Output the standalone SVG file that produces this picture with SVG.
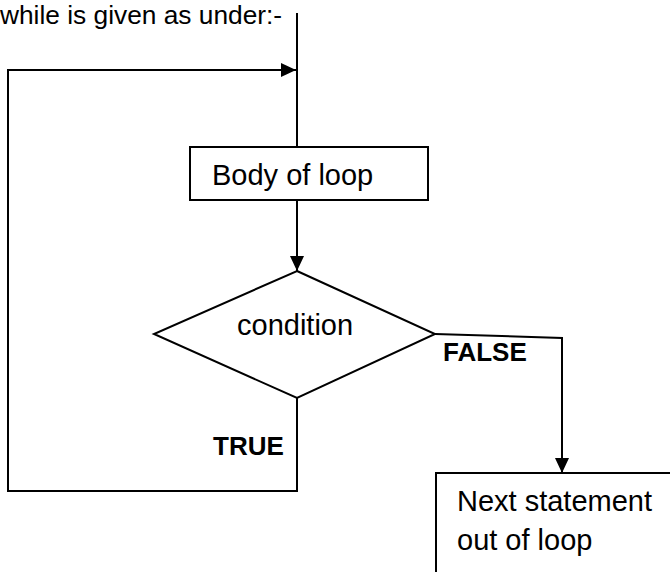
<svg xmlns="http://www.w3.org/2000/svg" width="670" height="572" viewBox="0 0 670 572">
<style>
.ln{fill:none;stroke:#000;stroke-width:2}
.sh{fill:#fff;stroke:#000;stroke-width:2}
.t{font-family:"Liberation Sans",Arial,sans-serif;fill:#000}
.n{font-size:29px}
.b{font-size:26px;font-weight:bold}
</style>
<defs>
<marker id="ah" markerWidth="15" markerHeight="14" refX="15" refY="7" orient="auto" markerUnits="userSpaceOnUse">
<path d="M0,0 L15,7 L0,14 Z" fill="#000"/>
</marker>
</defs>
<rect width="670" height="572" fill="#fff"/>
<text class="t" x="0" y="24" font-size="26.3">while is given as under:-</text>
<g id="connectors">
<path class="ln" d="M297,13 V147"/>
<path class="ln" d="M297,398 V491 H8 V70 H296" marker-end="url(#ah)"/>
<path class="ln" d="M297,200 V271" marker-end="url(#ah)"/>
<path class="ln" d="M435,334 L562,338 V473" marker-end="url(#ah)"/>
</g>
<g id="body">
<rect class="sh" x="190" y="147" width="238" height="53"/>
<text class="t n" x="212" y="185">Body of loop</text>
</g>
<g id="condition">
<polygon class="sh" points="297,271 435,334 297,398 154,334"/>
<text class="t n" x="237" y="335">condition</text>
</g>
<g id="next">
<rect class="sh" x="436" y="473" width="250" height="120"/>
<text class="t n" x="457" y="511">Next statement</text>
<text class="t n" x="457" y="550">out of loop</text>
</g>
<text class="t b" x="443" y="361">FALSE</text>
<text class="t b" x="213" y="455">TRUE</text>
</svg>
